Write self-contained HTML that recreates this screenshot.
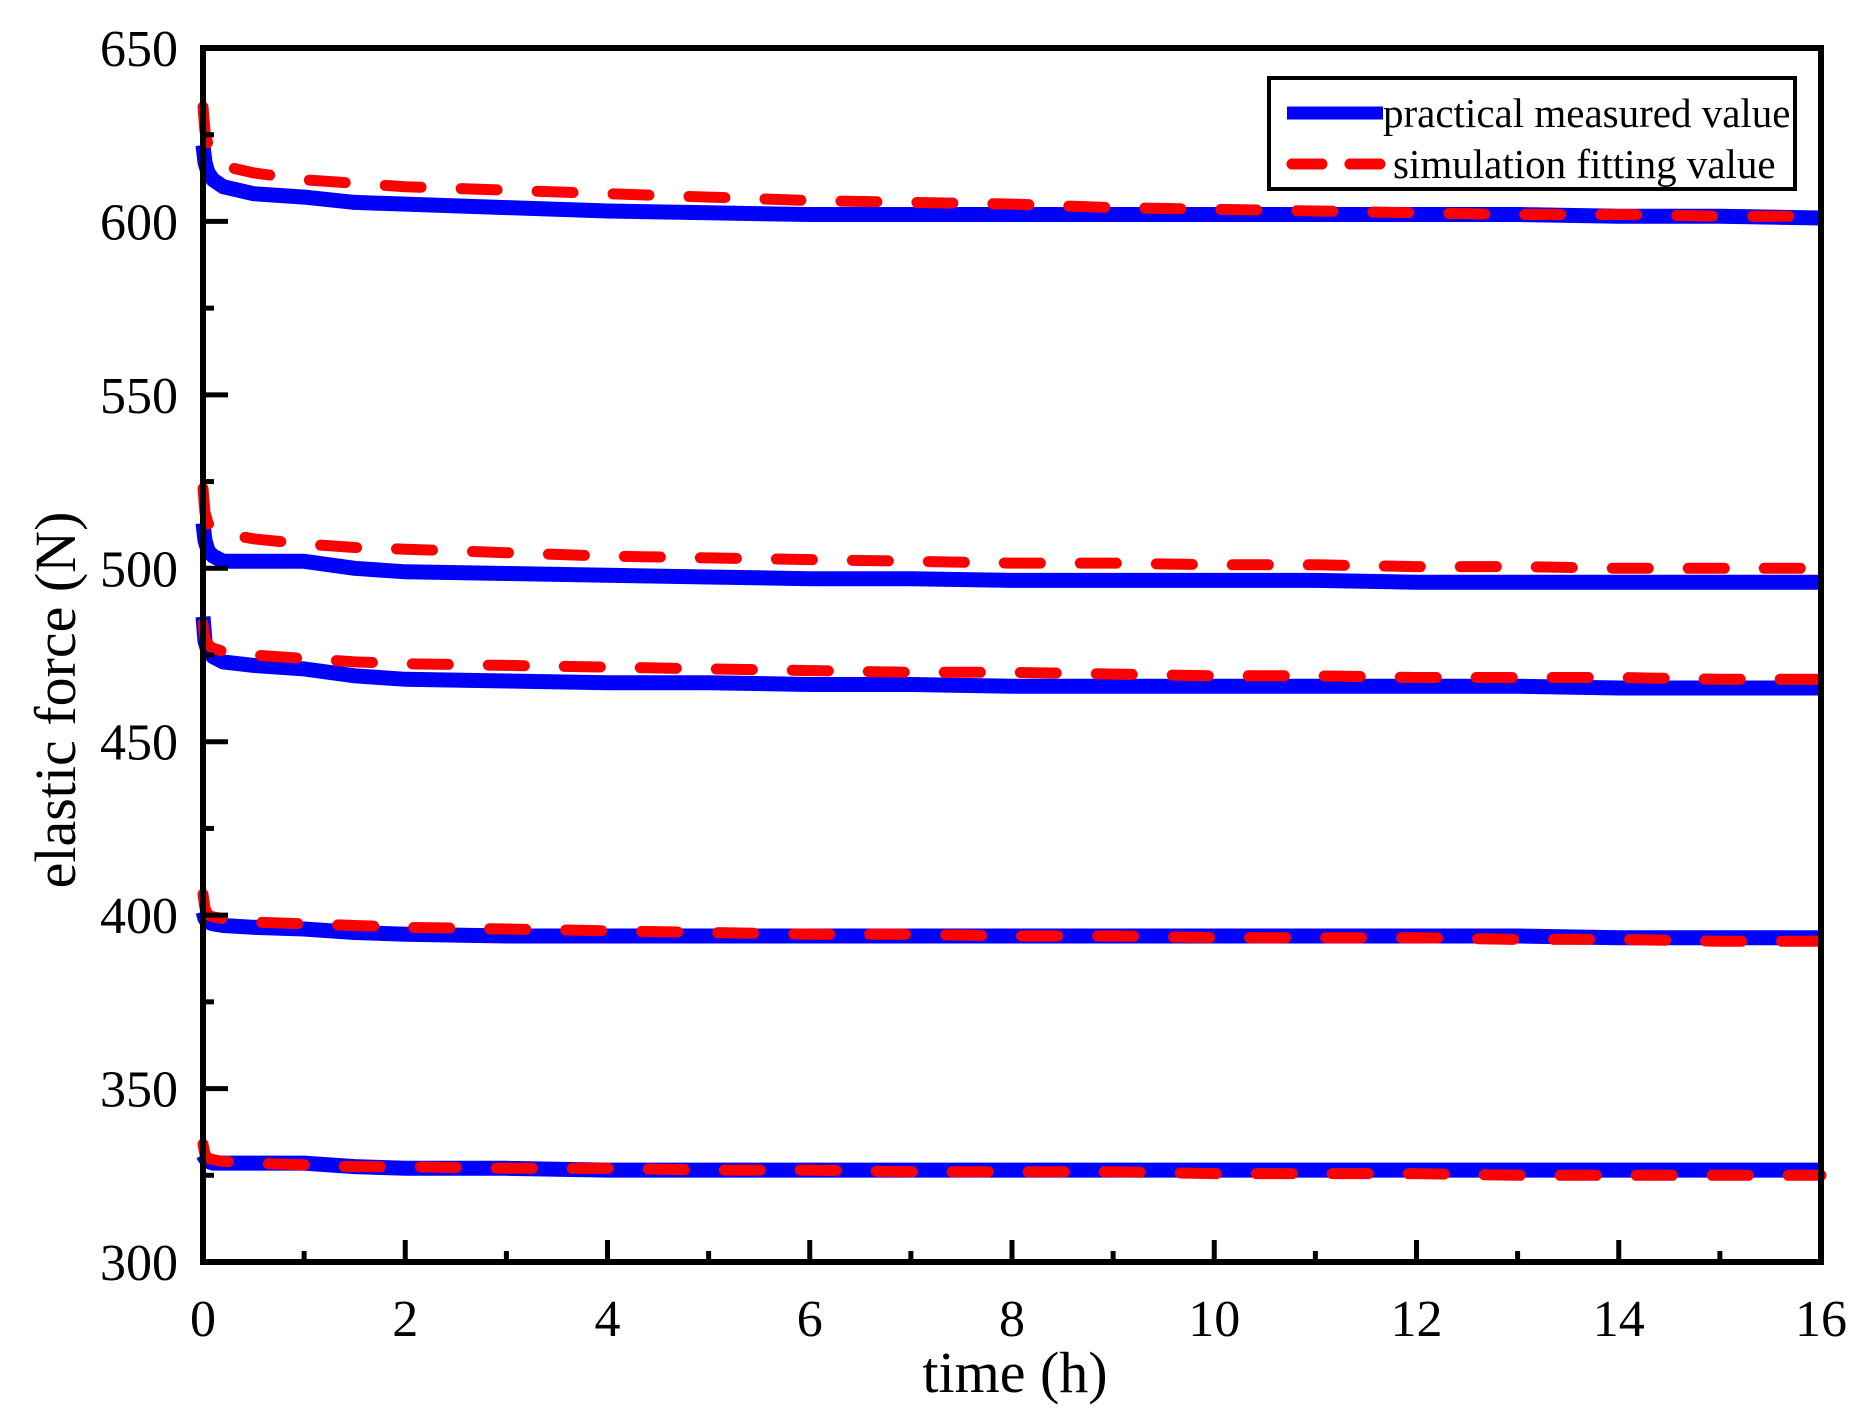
<!DOCTYPE html>
<html><head><meta charset="utf-8"><style>
html,body{margin:0;padding:0;background:#fff;}
svg{display:block;}
text{font-family:"Liberation Serif",serif;fill:#000;}
</style></head><body>
<svg id="chart" width="1875" height="1412" viewBox="0 0 1875 1412">
<g id="series"></g>
<rect x="203" y="48" width="1618" height="1214" fill="none" stroke="#000" stroke-width="6"/>
<g id="ticks"></g>
<text x="1015" y="1392" font-size="58" text-anchor="middle">time (h)</text>
<text transform="translate(75,700) rotate(-90)" font-size="58" text-anchor="middle">elastic force (N)</text>
<g>
<rect x="1269" y="78" width="526" height="111" fill="#fff" stroke="#000" stroke-width="4"/>
<line x1="1287" y1="113" x2="1383" y2="113" stroke="#0000ff" stroke-width="13"/>
<text x="1383" y="127" font-size="41">practical measured value</text>
<line x1="1292" y1="164" x2="1383" y2="164" stroke="#ff0000" stroke-width="11" stroke-dasharray="30 28" stroke-linecap="round"/>
<text x="1393" y="178" font-size="41">simulation fitting value</text>
</g>
</svg>
<script>
const times = [0, 0.02, 0.05, 0.1, 0.2, 0.5, 1, 1.5, 2, 3, 4, 5, 6, 7, 8, 9, 10, 11, 12, 13, 14, 15, 16];
const measuredA = [622, 617, 614, 612, 610, 608, 607, 605.5, 605, 604, 603, 602.5, 602, 602, 602, 602, 602, 602, 602, 602, 601.5, 601.5, 601];
const fitA = [633, 626, 622, 619, 616, 614, 612, 611, 610, 609, 608, 607, 606, 605.5, 605, 604, 603.5, 603, 602.5, 602, 602, 601.5, 601.5];
const measuredB = [513, 508, 505, 503.5, 502, 502, 502, 500, 499, 498.5, 498, 497.5, 497, 497, 496.5, 496.5, 496.5, 496.5, 496, 496, 496, 496, 496];
const fitB = [523, 516, 513, 511.5, 510, 508.5, 507, 506, 505.5, 504.5, 503.5, 503, 502.5, 502, 501.5, 501.5, 501, 501, 500.5, 500.5, 500, 500, 500];
const measuredC = [486, 479, 476, 474.5, 473, 472, 471, 469, 468, 467.5, 467, 467, 466.5, 466.5, 466, 466, 466, 466, 466, 466, 465.5, 465.5, 465.5];
const fitC = [484, 480, 478, 477, 476, 475, 474, 473, 472.5, 472, 471.5, 471, 470.5, 470, 470, 469.5, 469, 469, 468.5, 468.5, 468.5, 468, 468];
const measuredD = [401, 399, 398, 397.5, 397, 396.5, 396, 395, 394.5, 394, 394, 394, 394, 394, 394, 394, 394, 394, 394, 394, 393.5, 393.5, 393.5];
const fitD = [406, 402, 400, 399.5, 399, 398, 397.5, 397, 396.5, 396, 395.5, 395, 394.5, 394.5, 394, 394, 393.5, 393.5, 393.5, 393, 393, 392.5, 392.5];
const measuredE = [331, 330, 329, 328.5, 328.5, 328.5, 328.5, 327.5, 327, 327, 326.5, 326.5, 326.5, 326.5, 326.5, 326.5, 326.5, 326.5, 326.5, 326.5, 326.5, 326.5, 326.5];
const fitE = [334, 331, 330, 329.5, 329, 328.5, 328, 327.5, 327.5, 327, 327, 326.5, 326.5, 326, 326, 326, 325.5, 325.5, 325.5, 325, 325, 325, 325];
const xTickLabels = ["0","2","4","6","8","10","12","14","16"];
const yTickLabels = ["300","350","400","450","500","550","600","650"];

const NS = "http://www.w3.org/2000/svg";
function xScale(t){ return 203 + (t/16)*1618; }
function yScale(v){ return 1262 - (v-300)/350*1214; }
const seriesG = document.getElementById('series');
const ticksG = document.getElementById('ticks');

function drawLine(vals, color, width, dash, name){
  const p = document.createElementNS(NS,'polyline');
  p.setAttribute('points', vals.map((v,i)=>xScale(times[i]).toFixed(1)+','+yScale(v).toFixed(1)).join(' '));
  p.setAttribute('fill','none');
  p.setAttribute('stroke',color);
  p.setAttribute('stroke-width',width);
  p.setAttribute('stroke-linejoin','round');
  if(dash){ p.setAttribute('stroke-dasharray',dash); p.setAttribute('stroke-linecap','round'); }
  
  
  seriesG.appendChild(p);
}
const measured = [measuredA, measuredB, measuredC, measuredD, measuredE];
const fits = [fitA, fitB, fitC, fitD, fitE];
const letters = ['a','b','c','d','e'];
measured.forEach((m,i)=>drawLine(m,'#0000ff',15,null,'measured-line-'+letters[i]));
fits.forEach((f,i)=>drawLine(f,'#ff0000',11,'36 40','fit-line-'+letters[i]));

function addLine(x1,y1,x2,y2,name){
  const l = document.createElementNS(NS,'line');
  l.setAttribute('x1',x1); l.setAttribute('y1',y1); l.setAttribute('x2',x2); l.setAttribute('y2',y2);
  l.setAttribute('stroke','#000'); l.setAttribute('stroke-width',5);
  
  
  ticksG.appendChild(l);
}
function addText(x,y,s,anchor,name){
  const t = document.createElementNS(NS,'text');
  t.setAttribute('x',x); t.setAttribute('y',y); t.setAttribute('font-size',52);
  t.setAttribute('text-anchor',anchor); t.textContent = s;
  
  
  ticksG.appendChild(t);
}
for(let t=0;t<=16;t++){
  const x = xScale(t);
  const major = t%2===0;
  addLine(x,1262,x,1262-(major?22:11),'x-tick');
}
xTickLabels.forEach(s=>addText(xScale(+s),1336,s,'middle','x-tick-label'));
for(let v=300;v<=650;v+=25){
  const y = yScale(v);
  const major = v%50===0;
  addLine(203,y,203+(major?25:11),y,'y-tick');
}
yTickLabels.forEach(s=>addText(178,yScale(+s)+18,s,'end','y-tick-label'));
</script>
</body></html>
